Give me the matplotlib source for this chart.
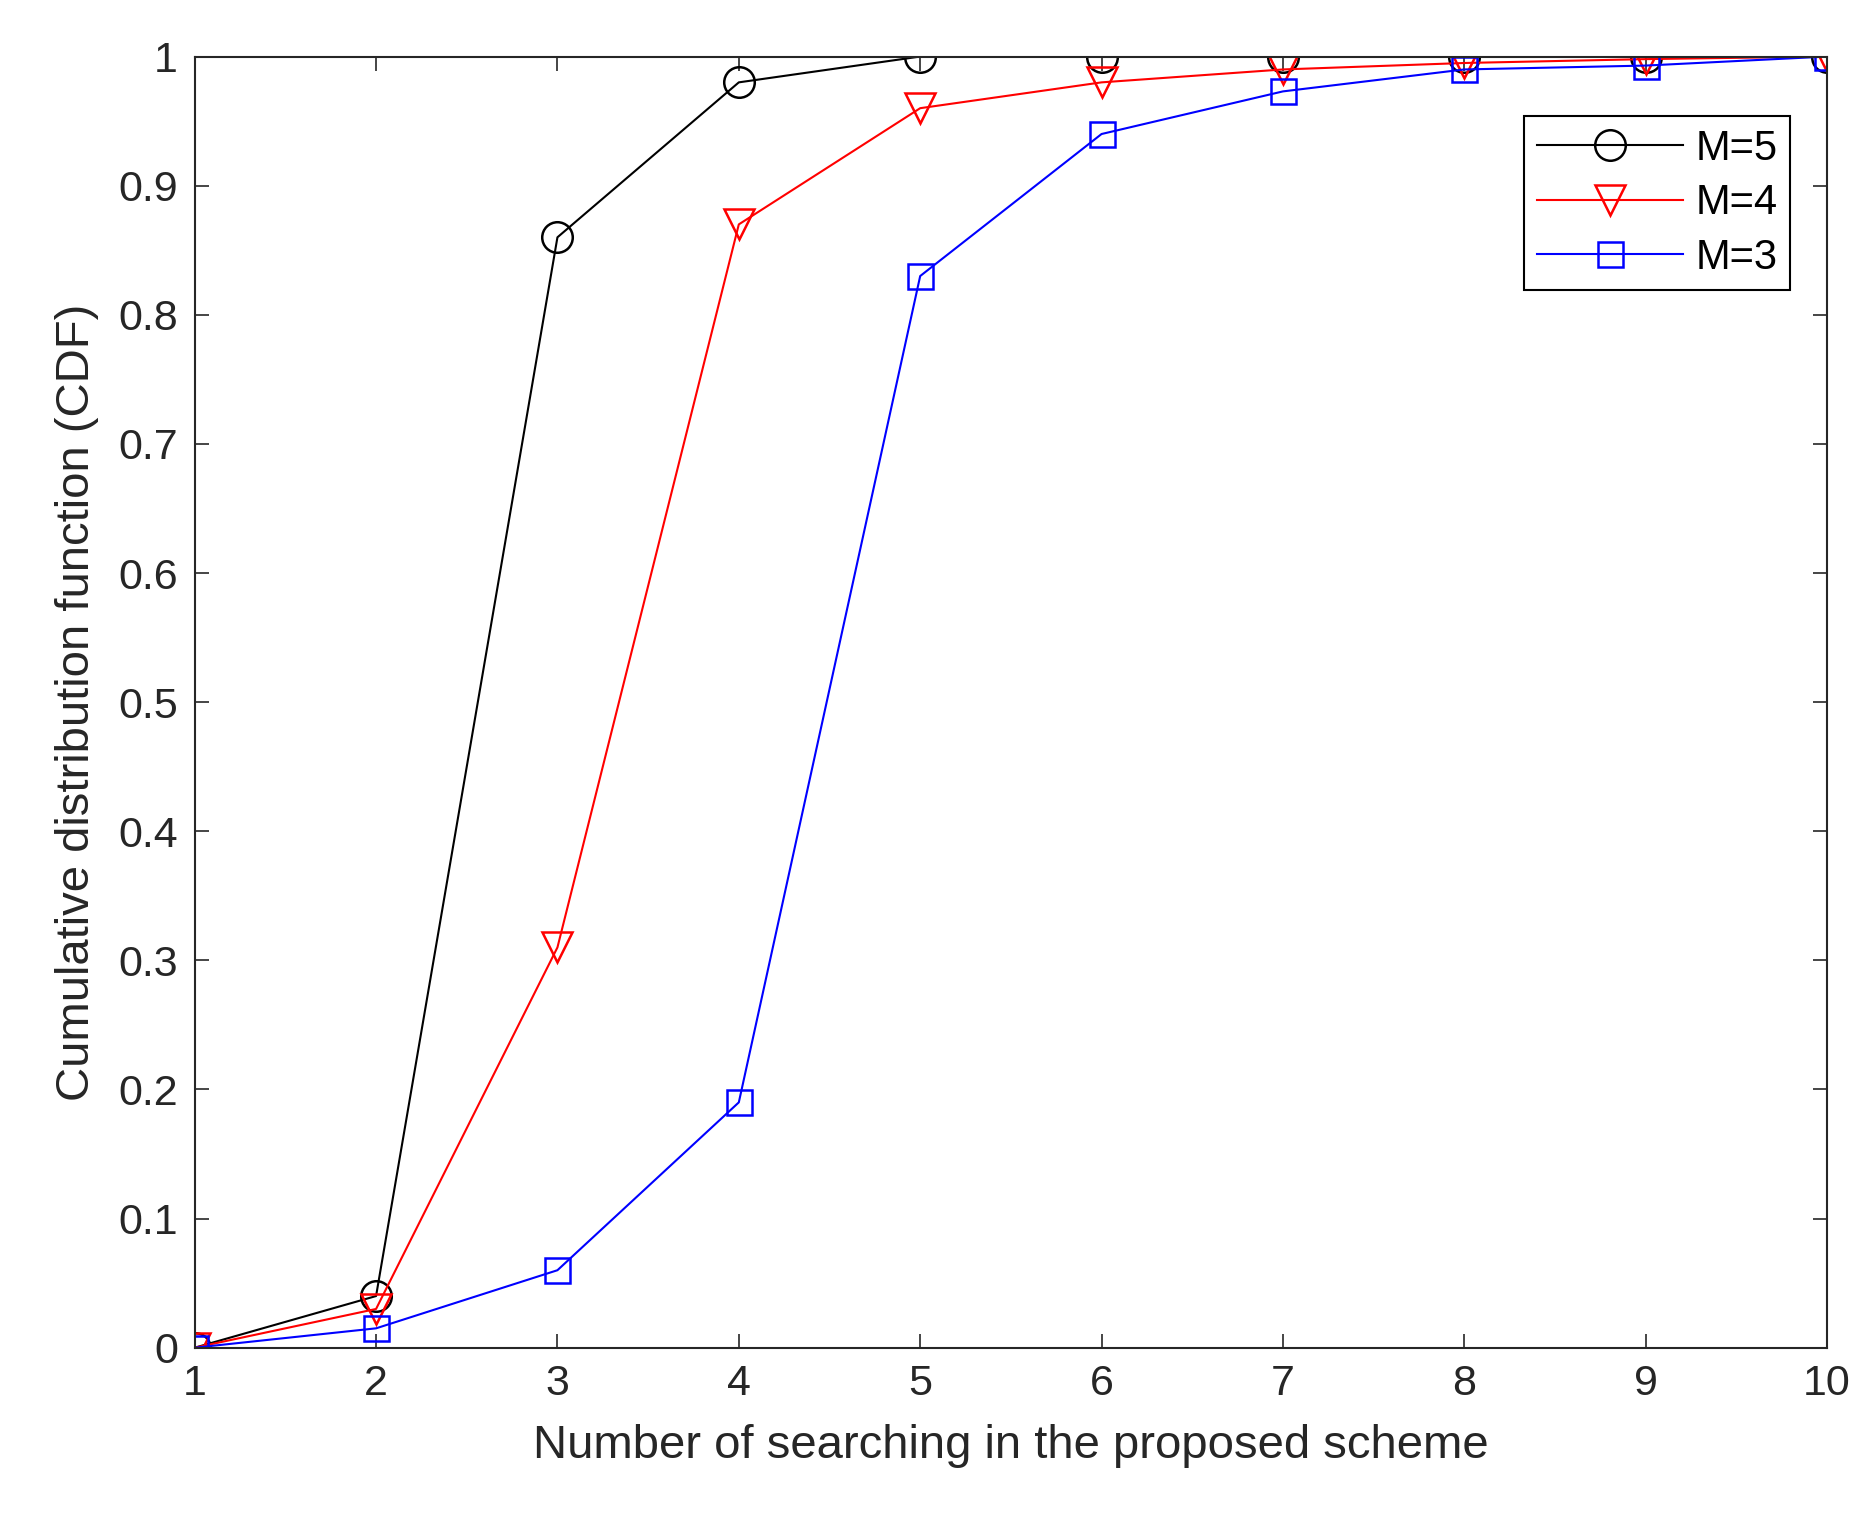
import matplotlib
matplotlib.use("Agg")
import matplotlib.pyplot as plt
plt.rcParams['font.family'] = ['Liberation Sans', 'DejaVu Sans']

x = [1, 2, 3, 4, 5, 6, 7, 8, 9, 10]
m5 = [0, 0.04, 0.86, 0.98, 1.0, 1.0, 1.0, 1.0, 1.0, 1.0]
m4 = [0, 0.03, 0.31, 0.87, 0.96, 0.98, 0.99, 0.995, 0.998, 1.0]
m3 = [0, 0.015, 0.06, 0.19, 0.83, 0.94, 0.973, 0.99, 0.993, 1.0]

fig = plt.figure(figsize=(18.72, 15.28), dpi=100)
ax = fig.add_axes([0.104, 0.118, 0.872, 0.845])
ms = 22
ax.plot(x, m5, color='black', marker='o', mfc='none', ms=ms, mew=1.8, lw=1.5, label='M=5')
ax.plot(x, m4, color='red', marker='v', mfc='none', ms=ms, mew=1.8, lw=1.5, label='M=4')
ax.plot(x, m3, color='blue', marker='s', mfc='none', ms=ms-4, mew=1.8, lw=1.5, label='M=3')
ax.set_xlim(1, 10)
ax.set_ylim(0, 1)
ax.set_xticks(x)
ax.set_yticks([i/10 for i in range(11)])
ax.set_yticklabels(['0'] + [f'{i/10:.1f}' for i in range(1, 10)] + ['1'])
tc = '#262626'
ax.tick_params(direction='in', top=True, right=True, labelsize=31, length=10, width=1.2, colors=tc, labelcolor=tc, pad=12)
for s in ax.spines.values():
    s.set_linewidth(1.5)
    s.set_color(tc)
ax.set_xlabel('Number of searching in the proposed scheme', fontsize=34, color=tc, labelpad=14)
ax.set_ylabel('Cumulative distribution function (CDF)', fontsize=34, color=tc, labelpad=14)
leg = ax.legend(loc='upper right', bbox_to_anchor=(0.99, 0.97), fontsize=30, fancybox=False,
                edgecolor='black', framealpha=1, handlelength=3.5, handletextpad=0.3,
                borderpad=0.3, labelspacing=0.35)
leg.get_frame().set_linewidth(1.5)
fig.savefig('out.png', dpi=100)
